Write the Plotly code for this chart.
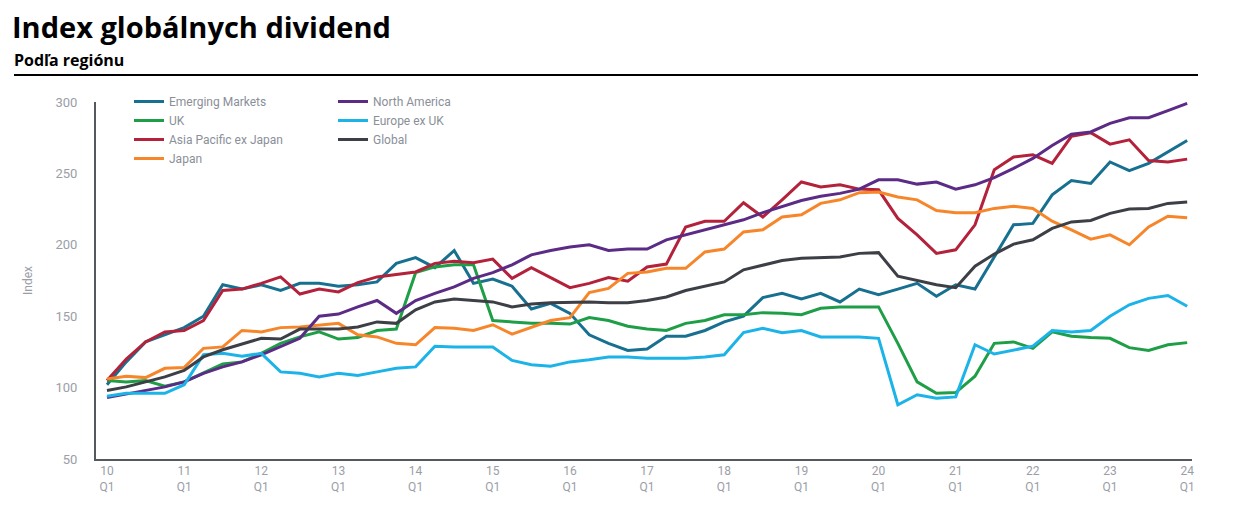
import plotly.graph_objects as go

quarters = list(range(57))  # 2010 Q1 .. 2024 Q1
tick_pos = list(range(0, 57, 4))
tick_text = [f"{y}<br>Q1" for y in range(10, 25)]

emerging = [102,118,132,137,142,150,172,169,172,168, 173,173,171,172,174,187,191,184,196,173,
            176,171,155,159,152,137,131,126,127,136, 136,140,146,150,163,166,162,166,160,169,
            165,169,173,164,172,169,192,214,215,235, 245,243,258,252,257,265,273]
north_america = [93,95.5,98,100.5,104,110,114.5,118,123,128.5, 134.5,150,151.5,156.5,161,152,161,166,170.5,176.5,
                 180.5,186,193,196,198.5,200,196,197,197,203.5, 207,210.5,214,217.5,222.5,226.5,231,234,236,239,
                 245.5,245.5,242.5,244,239,242,247,253.5,260.5,269.5, 277.5,279,285,289,289,294,299]
uk = [105,104,105,101,104,110,116.5,118,124,131, 135.5,139,134,135,140,141,180.5,184.5,186,186,
      147,146,145,145,144.5,149,147,143,141,140, 145,147,151,151,152.5,152,151,155.5,156.5,156.5,
      156.5,131,104,96,96.5,108,131,132,127.5,139, 136,135,134.5,128,126,130,131.5]
europe_ex_uk = [94,96,96,96,102,123,124,122,124,111, 110,107.5,110,108.5,111,113.5,114.5,129,128.5,128.5,
                128.5,119,116,115,118,119.5,121.5,121.5,120.5,120.5, 120.5,121.5,123,138.5,141.5,138.5,140,135.5,135.5,135.5,
                134.5,88,95,92.5,93.5,130,123.5,126.5,129,140, 139,140,150,158,162.5,164.5,157]
asia_pacific = [105,120,132,139,140,147,168,169,173,177.5, 165.5,169,167,173.5,177.5,179.5,181,187,188.5,187.5,
                190,176.5,184,177,170,173,177,174.5,184.5,186.5, 212.5,216.5,216.5,229.5,219.5,231.5,244,240.5,242,239,
                238.5,218.5,207,194,196.5,214,252.5,261.5,263,257, 276,278.5,270.5,273.5,259,258,260]
global_idx = [98,100.5,104,107.5,112,121.5,126.5,130.5,134.5,134, 141,141,141,142.5,146,145,154.5,160,162,161,
              160,156.5,158.5,159.5,160,160,159.5,159.5,161,163.5, 168,171,174,182.5,186,189,190.5,191,191.5,194,
              194.5,178,175,172,170,185,193.5,200.5,203.5,211.5, 216,217,222,225,225.5,229,230]
japan = [106,108,107,113.5,114,127.5,128.5,140,139,142, 142.5,144,145,137,135.5,131,130,142,141.5,140,
         144,137.5,142,147,149,166.5,169.5,180,181,183.5, 183.5,195,197,209,210.5,219.5,221,229,231.5,236.5,
         237,233.5,231.5,224,222.5,222.5,225.5,227,225.5,216.5, 210.5,204,207,200,212.5,220,219]

series = [
    ("Emerging Markets", emerging, "#17708f", "legend"),
    ("UK", uk, "#1f9e48", "legend"),
    ("Asia Pacific ex Japan", asia_pacific, "#b3223a", "legend"),
    ("Japan", japan, "#f7862a", "legend"),
    ("North America", north_america, "#5b2b86", "legend2"),
    ("Europe ex UK", europe_ex_uk, "#1cb3e8", "legend2"),
    ("Global", global_idx, "#3c3f46", "legend2"),
]

fig = go.Figure()
for name, vals, color, lg in series:
    fig.add_trace(go.Scatter(x=quarters, y=vals, name=name, mode="lines",
                             line=dict(color=color, width=3), legend=lg))

# page body has an 8px margin: figure coords = screen coords - 8
OFF = 8
W, H = 1232, 512
L, R, T, B = 96 - OFF, 48, 102 - OFF, 61
pw, ph = W - L - R, H - T - B

def px_x(x):
    return (x - OFF - L) / pw

def px_y(y):
    return (H - B - (y - OFF)) / ph

gray = "#9a9ea6"
leg_font = dict(size=12, color="#8a8f98", family="Roboto")
fig.update_layout(
    width=W, height=H,
    margin=dict(l=L, r=R, t=T, b=B),
    paper_bgcolor="white", plot_bgcolor="white",
    font=dict(family="Roboto", color=gray, size=12),
    showlegend=True,
    legend=dict(x=px_x(129), y=px_y(87), xanchor="left", yanchor="top",
                font=leg_font, itemwidth=30, bgcolor="rgba(0,0,0,0)", tracegroupgap=0),
    legend2=dict(x=px_x(333), y=px_y(87), xanchor="left", yanchor="top",
                 font=leg_font, itemwidth=30, bgcolor="rgba(0,0,0,0)", tracegroupgap=0),
    xaxis=dict(range=[-0.57, 56.25], tickvals=tick_pos, ticktext=tick_text,
               showline=True, linecolor="#55585e", linewidth=2, showgrid=False, zeroline=False,
               ticks="", tickfont=dict(size=12, color=gray)),
    yaxis=dict(range=[50, 300], tickvals=[50, 100, 150, 200, 250, 300],
               showline=True, linecolor="#55585e", linewidth=2, showgrid=False, zeroline=False,
               ticks="", tickfont=dict(size=13, color=gray), ticklabelstandoff=14,
               title=dict(text="Index", font=dict(size=12, color=gray), standoff=20)),
    annotations=[
        dict(text="<b>Index globálnych dividend</b>", xref="paper", yref="paper",
             x=px_x(11), y=px_y(47), xanchor="left", yanchor="bottom", showarrow=False,
             borderpad=0, font=dict(family="Open Sans", size=29, color="black")),
        dict(text="<b>Podľa regiónu</b>", xref="paper", yref="paper",
             x=px_x(13), y=px_y(47.5), xanchor="left", yanchor="top", showarrow=False,
             borderpad=0, font=dict(family="Open Sans", size=16, color="black")),
    ],
    shapes=[
        dict(type="line", xref="paper", yref="paper", x0=px_x(14), x1=px_x(1198),
             y0=px_y(75), y1=px_y(75), line=dict(color="black", width=2)),
    ],
)

fig.write_html("out.html")
